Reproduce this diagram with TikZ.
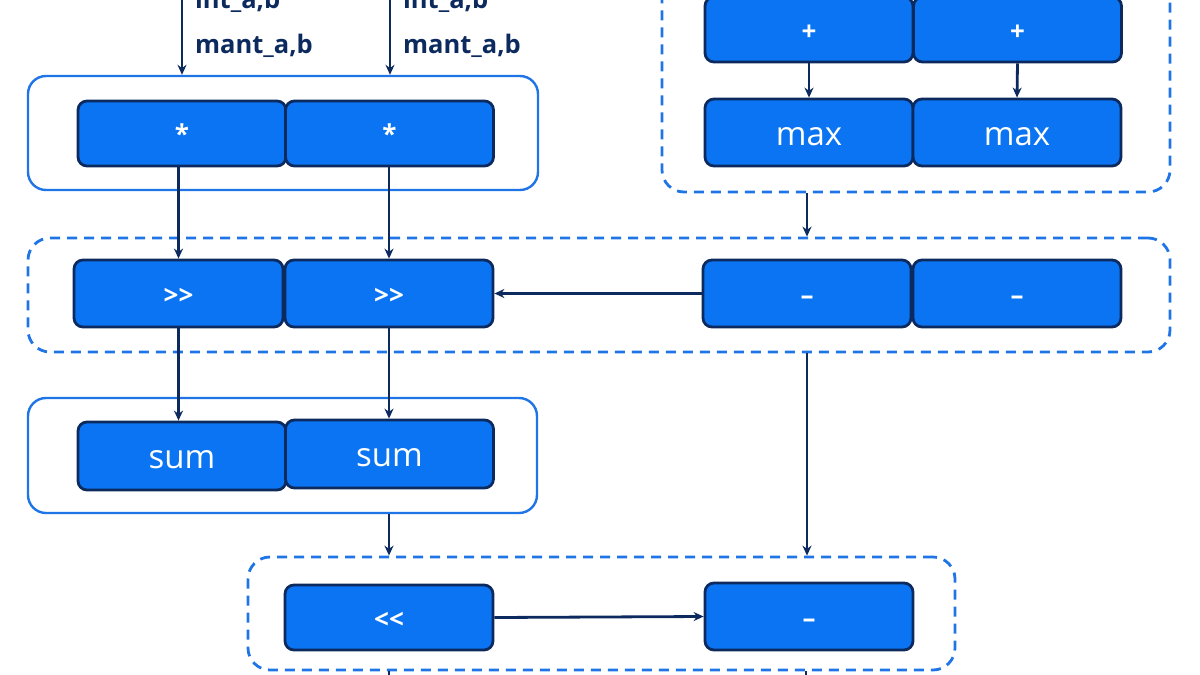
\documentclass[tikz,border=0pt]{standalone}
\usepackage{fontspec}
\setmainfont{Open Sans}
\usetikzlibrary{arrows.meta}
\definecolor{boxfill}{HTML}{0A74F2}
\definecolor{navy}{HTML}{0C2A5E}
\definecolor{grp}{HTML}{1F74E6}
\newcommand{\dn}[2]{\raisebox{-#1}[\height][\depth]{#2}}
\begin{document}
\begin{tikzpicture}[x=1pt,y=-1pt,
 op/.style={draw=navy, line width=2.8pt, fill=boxfill, rounded corners=9pt, minimum width=208pt, minimum height=66pt, text=white, font=\fontsize{26}{30}\selectfont\bfseries, inner sep=0pt},
 word/.style={op, font=\fontsize{33}{36}\selectfont},
 solidgrp/.style={draw=grp, line width=2.4pt, rounded corners=18pt, inner sep=0pt},
 dashgrp/.style={draw=grp, line width=2.8pt, dash pattern=on 10pt off 7pt, rounded corners=22pt, inner sep=0pt},
 arr/.style={draw=navy, line width=2.8pt, -{Stealth[length=10pt,width=9pt]}},
 lbl/.style={text=navy, font=\fontsize{25.5}{30}\selectfont\bfseries, anchor=base west, inner sep=0pt}]
\useasboundingbox (0,0) rectangle (1200,675);
\clip (0,0) rectangle (1200,675);

% groups
\node[solidgrp, minimum width=510pt, minimum height=114pt] (g1) at (283,133) {};
\node[dashgrp, minimum width=508pt, minimum height=232pt] (g2) at (916,76) {};
\node[dashgrp, minimum width=1142pt, minimum height=114pt] (g3) at (599,295) {};
\node[solidgrp, minimum width=509pt, minimum height=115pt] (g4) at (282.5,455.5) {};
\node[dashgrp, minimum width=707pt, minimum height=113pt] (g5) at (601.5,613.5) {};

% boxes
\node[op, minimum height=65pt] (mul1) at (182,133.5) {*};
\node[op, minimum height=65pt] (mul2) at (389.5,133.5) {*};
\node[op, minimum height=65pt] (add1) at (809,29.5) {\dn{3pt}{+}};
\node[op, minimum height=65pt] (add2) at (1017.5,29.5) {\dn{3pt}{+}};
\node[word, minimum height=67pt] (max1) at (809,132.5) {\dn{4pt}{max}};
\node[word, minimum height=67pt] (max2) at (1017,132.5) {\dn{4pt}{max}};
\node[op, minimum width=209pt, minimum height=67pt] (shr1) at (178.5,293.5) {\dn{3pt}{{>}{>}}};
\node[op, minimum height=67pt] (shr2) at (389,293.5) {\dn{3pt}{{>}{>}}};
\node[op, minimum height=67pt] (sub1) at (807,293.5) {\dn{7pt}{–}};
\node[op, minimum height=67pt] (sub2) at (1017,293.5) {\dn{7pt}{–}};
\node[word, minimum height=68pt] (sum1) at (182,456) {\dn{4pt}{sum}};
\node[word, minimum height=68pt] (sum2) at (389.5,454) {\dn{4pt}{sum}};
\node[op, minimum height=65pt] (shl) at (389,617.5) {\dn{3pt}{{<}{<}}};
\node[op, minimum height=67pt] (sub3) at (809,616.5) {\dn{7pt}{–}};

% input labels
\node[lbl] (int1) at (195,8) {int\_a,b};
\node[lbl] (mant1) at (195,53) {mant\_a,b};
\node[lbl] (int2) at (403,8) {int\_a,b};
\node[lbl] (mant2) at (403,53) {mant\_a,b};

% free ends
\coordinate (in1) at (182,-30);
\coordinate (in2) at (390,-30);
\coordinate (out1) at (389,720);
\coordinate (out2) at (806,720);

% connectors
\draw[arr] (in1) -- (in1 |- g1.north);
\draw[arr] (in2) -- (in2 |- g1.north);
\draw[arr] (shr1.north |- mul1.south) -- (shr1.north);
\draw[arr] (shr2.north |- mul2.south) -- (shr2.north);
\draw[arr] (shr1.south) -- (shr1.south |- sum1.north);
\draw[arr] (shr2.south) -- (shr2.south |- sum2.north);
\draw[arr] (add1.south) -- (max1.north);
\draw[arr] (add2.south) -- (max2.north);
\draw[arr] (sub1.north |- g2.south) -- (sub1.north |- g3.north);
\draw[arr] (sub1.west) -- (shr2.east);
\draw[arr] (shl.north |- g4.south) -- (shl.north |- g5.north);
\draw[arr] (sub1.south |- g3.south) -- (sub1.south |- g5.north);
\draw[arr] (shl.east) -- (sub3.west);
\draw[arr] (shl.south |- g5.south) -- (out1);
\draw[arr] (out2 |- g5.south) -- (out2);
\end{tikzpicture}
\end{document}
